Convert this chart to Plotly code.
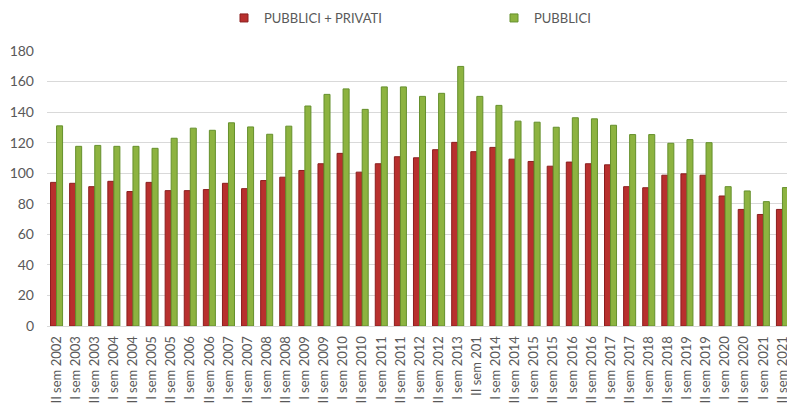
import plotly.graph_objects as go

categories = [
    "II sem 2002", "I sem 2003", "II sem 2003", "I sem 2004", "II sem 2004",
    "I sem 2005", "II sem 2005", "I sem 2006", "II sem 2006", "I sem 2007",
    "II sem 2007", "I sem 2008", "II sem 2008", "I sem 2009", "II sem 2009",
    "I sem 2010", "II sem 2010", "I sem 2011", "II sem 2011", "I sem 2012",
    "II sem 2012", "I sem 2013", "II sem 201", "I sem 2014", "II sem 2014",
    "I sem 2015", "II sem 2015", "I sem 2016", "II sem 2016", "I sem 2017",
    "II sem 2017", "I sem 2018", "II sem 2018", "I sem 2019", "II sem 2019",
    "I sem 2020", "II sem 2020", "I sem 2021", "II sem 2021",
]

pubblici_privati = [
    94, 93.4, 91.2, 94.7, 88, 94, 88.6, 88.6, 89.3, 93.4,
    89.9, 95.2, 97.4, 101.8, 106.2, 113, 100.7, 106.2, 110.8, 110.1,
    115.4, 120.2, 114.1, 116.9, 109.2, 107.7, 104.6, 107.3, 106.2, 105.5,
    91.2, 90.5, 98.7, 99.6, 98.7, 85.1, 76.3, 73, 76.3,
]

pubblici = [
    131, 117.6, 118.2, 117.6, 117.6, 116.3, 122.9, 129.5, 128.1, 133,
    130.3, 125.5, 130.8, 144, 151.6, 155.2, 141.8, 156.5, 156.5, 150.3,
    152.3, 169.9, 150.3, 144.4, 134.1, 133.4, 130.1, 136.3, 135.6, 131.4,
    125.3, 125.3, 119.6, 122, 120, 91.2, 88.4, 81.4, 90.6,
]

y_ticks = [0, 20, 40, 60, 80, 100, 120, 140, 160, 180]

font_family = "Lato, Open Sans, sans-serif"
gray = "#595959"

fig = go.Figure()
fig.add_trace(go.Bar(
    x=categories, y=pubblici_privati, name="PUBBLICI + PRIVATI",
    marker=dict(color="#B8302E", line=dict(color="#8A1E1E", width=1)),
    showlegend=False,
))
fig.add_trace(go.Bar(
    x=categories, y=pubblici, name="PUBBLICI",
    marker=dict(color="#8DB340", line=dict(color="#65902C", width=1)),
    showlegend=False,
))
# legend entries with small square symbols
fig.add_trace(go.Scatter(
    x=[None], y=[None], mode="markers", name="PUBBLICI + PRIVATI",
    marker=dict(symbol="square", size=8, color="#B8302E",
                line=dict(color="#8A1E1E", width=1)),
))
fig.add_trace(go.Scatter(
    x=[None], y=[None], mode="markers", name="PUBBLICI",
    marker=dict(symbol="square", size=8, color="#8DB340",
                line=dict(color="#65902C", width=1)),
))

n = len(categories)
fig.update_layout(
    width=787, height=409,
    margin=dict(l=47, r=0, t=51, b=83, autoexpand=False),
    paper_bgcolor="white", plot_bgcolor="white",
    barmode="group", bargap=0.37, bargroupgap=0,
    font=dict(family=font_family, color=gray),
    legend=dict(
        orientation="h", x=(224 - 47) / 740, xanchor="left",
        y=(326 - 3) / 275, yref="paper", yanchor="top",
        font=dict(size=13, color=gray, family=font_family),
        entrywidth=225, entrywidthmode="pixels",
        itemwidth=30, tracegroupgap=0,
    ),
    xaxis=dict(
        type="category", range=[-0.5, n - 0.5 - 5 / 19.1],
        tickangle=-90, tickfont=dict(size=13, color=gray),
        showgrid=False, showline=True, linecolor="#D9D9D9", linewidth=1,
        ticks="", fixedrange=True, automargin=False, ticklabelstandoff=4,
    ),
    yaxis=dict(
        range=[0, 180], tickvals=y_ticks, ticktext=[str(v) for v in y_ticks],
        tickfont=dict(size=14, color=gray), showgrid=True,
        gridcolor="#D9D9D9", gridwidth=1, zeroline=False, showline=False,
        ticks="", ticklabelstandoff=12, automargin=False, fixedrange=True,
    ),
)

fig.write_html(
    "out.html",
    config={"displayModeBar": False},
    post_script="document.body.style.margin='0';document.body.style.padding='0';",
)
